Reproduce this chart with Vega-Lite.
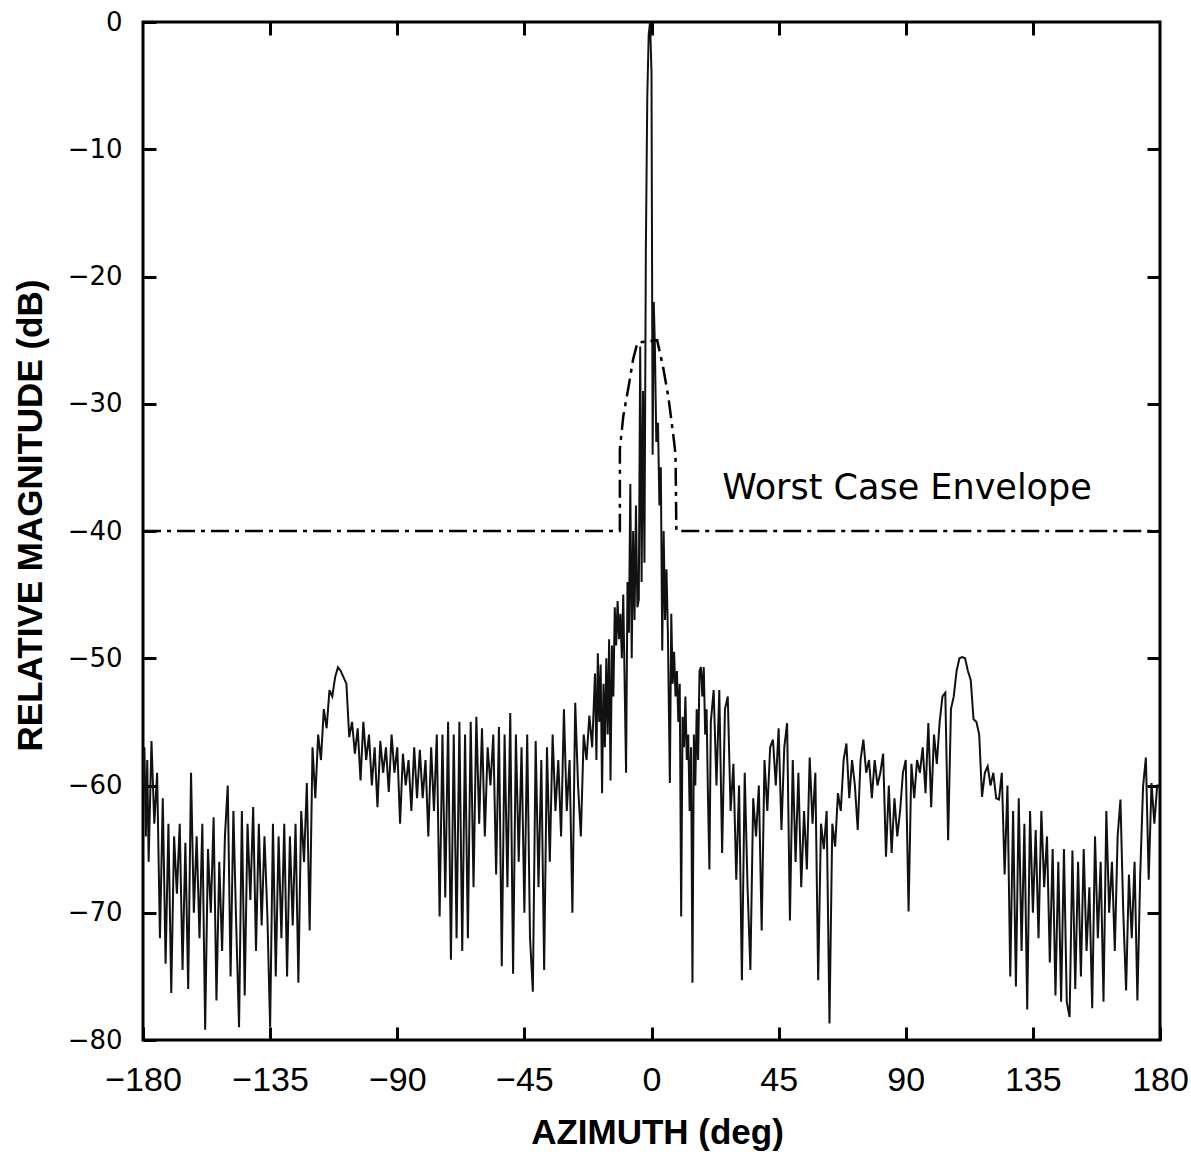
{
  "$schema": "https://vega.github.io/schema/vega-lite/v6.json",
  "width": 1017,
  "height": 1018,
  "autosize": {"type": "none"},
  "padding": {"left": 143, "top": 22, "right": 31, "bottom": 112},
  "background": "white",
  "config": {
    "view": {"stroke": "black", "strokeWidth": 3},
    "axis": {"grid": false, "domain": false, "tickColor": "black", "tickWidth": 3, "tickSize": -13, "labelColor": "black", "titleColor": "black"}
  },
  "datasets": {
    "pattern": [
      {"azimuth": -180, "magnitude": -60}, {"azimuth": -179.5, "magnitude": -57}, {"azimuth": -179, "magnitude": -64}, {"azimuth": -178.5, "magnitude": -58}, {"azimuth": -178, "magnitude": -66},
      {"azimuth": -177, "magnitude": -56.5}, {"azimuth": -176, "magnitude": -63}, {"azimuth": -175, "magnitude": -59}, {"azimuth": -174, "magnitude": -72},
      {"azimuth": -173, "magnitude": -61}, {"azimuth": -172, "magnitude": -74}, {"azimuth": -171, "magnitude": -63}, {"azimuth": -170, "magnitude": -76.3},
      {"azimuth": -169, "magnitude": -64}, {"azimuth": -168, "magnitude": -68.5}, {"azimuth": -167, "magnitude": -63}, {"azimuth": -166, "magnitude": -74.5},
      {"azimuth": -165, "magnitude": -64.5}, {"azimuth": -164, "magnitude": -76}, {"azimuth": -163, "magnitude": -59}, {"azimuth": -162, "magnitude": -70},
      {"azimuth": -161, "magnitude": -64}, {"azimuth": -160, "magnitude": -72}, {"azimuth": -159, "magnitude": -63}, {"azimuth": -158, "magnitude": -79.2},
      {"azimuth": -157, "magnitude": -65}, {"azimuth": -156, "magnitude": -70}, {"azimuth": -155, "magnitude": -62.5}, {"azimuth": -154, "magnitude": -76.9},
      {"azimuth": -153, "magnitude": -66}, {"azimuth": -152, "magnitude": -73}, {"azimuth": -151, "magnitude": -64}, {"azimuth": -150, "magnitude": -60},
      {"azimuth": -149, "magnitude": -75}, {"azimuth": -148, "magnitude": -62}, {"azimuth": -147, "magnitude": -71}, {"azimuth": -146, "magnitude": -79},
      {"azimuth": -145, "magnitude": -62}, {"azimuth": -144, "magnitude": -76.5}, {"azimuth": -143, "magnitude": -63}, {"azimuth": -142, "magnitude": -69},
      {"azimuth": -141, "magnitude": -61.7}, {"azimuth": -140, "magnitude": -73}, {"azimuth": -139, "magnitude": -63}, {"azimuth": -138, "magnitude": -71},
      {"azimuth": -137, "magnitude": -64}, {"azimuth": -136, "magnitude": -70}, {"azimuth": -135, "magnitude": -79}, {"azimuth": -134, "magnitude": -63},
      {"azimuth": -133, "magnitude": -75}, {"azimuth": -132, "magnitude": -64}, {"azimuth": -131, "magnitude": -72}, {"azimuth": -130, "magnitude": -63},
      {"azimuth": -129, "magnitude": -75}, {"azimuth": -128, "magnitude": -64}, {"azimuth": -127, "magnitude": -71}, {"azimuth": -126, "magnitude": -63},
      {"azimuth": -125, "magnitude": -75.5}, {"azimuth": -124, "magnitude": -62}, {"azimuth": -123, "magnitude": -66}, {"azimuth": -122, "magnitude": -59.8},
      {"azimuth": -121, "magnitude": -71.4}, {"azimuth": -120, "magnitude": -57}, {"azimuth": -119, "magnitude": -61}, {"azimuth": -118, "magnitude": -56},
      {"azimuth": -117, "magnitude": -58}, {"azimuth": -116, "magnitude": -54}, {"azimuth": -115, "magnitude": -55.5}, {"azimuth": -114, "magnitude": -52.5},
      {"azimuth": -113, "magnitude": -53}, {"azimuth": -112, "magnitude": -51.5}, {"azimuth": -111, "magnitude": -50.7}, {"azimuth": -110, "magnitude": -51},
      {"azimuth": -109, "magnitude": -51.5}, {"azimuth": -108, "magnitude": -52}, {"azimuth": -107, "magnitude": -56.2}, {"azimuth": -106, "magnitude": -55},
      {"azimuth": -105, "magnitude": -57.5}, {"azimuth": -104, "magnitude": -55.5}, {"azimuth": -103, "magnitude": -59.6}, {"azimuth": -102, "magnitude": -55},
      {"azimuth": -101, "magnitude": -58}, {"azimuth": -100, "magnitude": -56}, {"azimuth": -99, "magnitude": -60}, {"azimuth": -98, "magnitude": -57},
      {"azimuth": -97, "magnitude": -61.7}, {"azimuth": -96, "magnitude": -56.5}, {"azimuth": -95, "magnitude": -59}, {"azimuth": -94, "magnitude": -57},
      {"azimuth": -93, "magnitude": -60.5}, {"azimuth": -92, "magnitude": -56}, {"azimuth": -91, "magnitude": -59}, {"azimuth": -90, "magnitude": -57},
      {"azimuth": -89, "magnitude": -63}, {"azimuth": -88, "magnitude": -57.5}, {"azimuth": -87, "magnitude": -60}, {"azimuth": -86, "magnitude": -58},
      {"azimuth": -85, "magnitude": -62}, {"azimuth": -84, "magnitude": -57}, {"azimuth": -83, "magnitude": -61}, {"azimuth": -82, "magnitude": -57.2},
      {"azimuth": -81, "magnitude": -61}, {"azimuth": -80, "magnitude": -58}, {"azimuth": -79, "magnitude": -64}, {"azimuth": -78, "magnitude": -57},
      {"azimuth": -77, "magnitude": -62}, {"azimuth": -76, "magnitude": -56}, {"azimuth": -75, "magnitude": -70.3}, {"azimuth": -74, "magnitude": -56},
      {"azimuth": -73, "magnitude": -68.8}, {"azimuth": -72, "magnitude": -55}, {"azimuth": -71, "magnitude": -73.7}, {"azimuth": -70, "magnitude": -56},
      {"azimuth": -69, "magnitude": -72}, {"azimuth": -68, "magnitude": -55}, {"azimuth": -67, "magnitude": -73}, {"azimuth": -66, "magnitude": -56},
      {"azimuth": -65, "magnitude": -72}, {"azimuth": -64, "magnitude": -55}, {"azimuth": -63, "magnitude": -68}, {"azimuth": -62, "magnitude": -54.6},
      {"azimuth": -61, "magnitude": -63}, {"azimuth": -60, "magnitude": -55.5}, {"azimuth": -59, "magnitude": -64}, {"azimuth": -58, "magnitude": -57},
      {"azimuth": -57, "magnitude": -60}, {"azimuth": -56, "magnitude": -56}, {"azimuth": -55, "magnitude": -67}, {"azimuth": -54, "magnitude": -55.4},
      {"azimuth": -53, "magnitude": -74.2}, {"azimuth": -52, "magnitude": -56}, {"azimuth": -51, "magnitude": -68}, {"azimuth": -50, "magnitude": -54.3},
      {"azimuth": -49, "magnitude": -74.8}, {"azimuth": -48, "magnitude": -56}, {"azimuth": -47, "magnitude": -66}, {"azimuth": -46, "magnitude": -57},
      {"azimuth": -45, "magnitude": -70}, {"azimuth": -44, "magnitude": -56}, {"azimuth": -43, "magnitude": -72}, {"azimuth": -42, "magnitude": -76.2},
      {"azimuth": -41, "magnitude": -56.5}, {"azimuth": -40, "magnitude": -68}, {"azimuth": -39, "magnitude": -58}, {"azimuth": -38, "magnitude": -74.5},
      {"azimuth": -37, "magnitude": -57}, {"azimuth": -36, "magnitude": -66}, {"azimuth": -35, "magnitude": -56}, {"azimuth": -34, "magnitude": -62},
      {"azimuth": -33, "magnitude": -58}, {"azimuth": -32, "magnitude": -64}, {"azimuth": -31, "magnitude": -54}, {"azimuth": -30, "magnitude": -62},
      {"azimuth": -29, "magnitude": -58}, {"azimuth": -28, "magnitude": -70}, {"azimuth": -27, "magnitude": -53.5}, {"azimuth": -26, "magnitude": -60},
      {"azimuth": -25, "magnitude": -64}, {"azimuth": -24, "magnitude": -56}, {"azimuth": -23, "magnitude": -58}, {"azimuth": -22, "magnitude": -54.5},
      {"azimuth": -21, "magnitude": -57}, {"azimuth": -20, "magnitude": -51.2}, {"azimuth": -19.5, "magnitude": -58}, {"azimuth": -19, "magnitude": -49.6},
      {"azimuth": -18.5, "magnitude": -55}, {"azimuth": -18, "magnitude": -50.5}, {"azimuth": -17.5, "magnitude": -60.6}, {"azimuth": -17, "magnitude": -52},
      {"azimuth": -16.5, "magnitude": -57}, {"azimuth": -16, "magnitude": -50}, {"azimuth": -15.5, "magnitude": -56}, {"azimuth": -15, "magnitude": -48.5},
      {"azimuth": -14.5, "magnitude": -59.6}, {"azimuth": -14, "magnitude": -49}, {"azimuth": -13.5, "magnitude": -53}, {"azimuth": -13, "magnitude": -46},
      {"azimuth": -12.5, "magnitude": -49}, {"azimuth": -12, "magnitude": -45.5}, {"azimuth": -11.5, "magnitude": -48.5}, {"azimuth": -11, "magnitude": -46.5},
      {"azimuth": -10.5, "magnitude": -50}, {"azimuth": -10, "magnitude": -45}, {"azimuth": -9.5, "magnitude": -52}, {"azimuth": -9, "magnitude": -59},
      {"azimuth": -8.5, "magnitude": -44}, {"azimuth": -8, "magnitude": -48}, {"azimuth": -7.5, "magnitude": -36.3}, {"azimuth": -7, "magnitude": -50},
      {"azimuth": -6.5, "magnitude": -40}, {"azimuth": -6, "magnitude": -47}, {"azimuth": -5.5, "magnitude": -38}, {"azimuth": -5, "magnitude": -46},
      {"azimuth": -4.5, "magnitude": -45.4}, {"azimuth": -4, "magnitude": -25.5}, {"azimuth": -3.5, "magnitude": -44}, {"azimuth": -3, "magnitude": -29},
      {"azimuth": -2.5, "magnitude": -42.5}, {"azimuth": -2, "magnitude": -18}, {"azimuth": -1.5, "magnitude": -6}, {"azimuth": -1, "magnitude": -1},
      {"azimuth": -0.5, "magnitude": 0}, {"azimuth": 0, "magnitude": -4}, {"azimuth": 0.4, "magnitude": -34}, {"azimuth": 0.8, "magnitude": -22},
      {"azimuth": 1.2, "magnitude": -25.5}, {"azimuth": 1.7, "magnitude": -33}, {"azimuth": 2.3, "magnitude": -31.5}, {"azimuth": 2.8, "magnitude": -38},
      {"azimuth": 3.3, "magnitude": -35}, {"azimuth": 3.8, "magnitude": -49.4}, {"azimuth": 4.3, "magnitude": -40}, {"azimuth": 4.8, "magnitude": -47},
      {"azimuth": 5.3, "magnitude": -43}, {"azimuth": 5.8, "magnitude": -48}, {"azimuth": 6.5, "magnitude": -59.8}, {"azimuth": 7, "magnitude": -46.5},
      {"azimuth": 7.5, "magnitude": -52}, {"azimuth": 8, "magnitude": -49.5}, {"azimuth": 8.5, "magnitude": -53}, {"azimuth": 9, "magnitude": -51},
      {"azimuth": 9.5, "magnitude": -55}, {"azimuth": 10, "magnitude": -52}, {"azimuth": 10.5, "magnitude": -70.3}, {"azimuth": 11, "magnitude": -54.6},
      {"azimuth": 11.5, "magnitude": -57}, {"azimuth": 12, "magnitude": -53}, {"azimuth": 12.5, "magnitude": -58}, {"azimuth": 13, "magnitude": -56},
      {"azimuth": 13.5, "magnitude": -62}, {"azimuth": 14, "magnitude": -57}, {"azimuth": 14.5, "magnitude": -75.5}, {"azimuth": 15, "magnitude": -56},
      {"azimuth": 15.5, "magnitude": -60}, {"azimuth": 16, "magnitude": -54}, {"azimuth": 16.5, "magnitude": -58}, {"azimuth": 17, "magnitude": -51},
      {"azimuth": 17.5, "magnitude": -50.7}, {"azimuth": 18, "magnitude": -53}, {"azimuth": 18.5, "magnitude": -50.7}, {"azimuth": 19, "magnitude": -56},
      {"azimuth": 19.5, "magnitude": -54}, {"azimuth": 20, "magnitude": -61}, {"azimuth": 20.5, "magnitude": -66.6}, {"azimuth": 21, "magnitude": -55},
      {"azimuth": 22, "magnitude": -52.5}, {"azimuth": 23, "magnitude": -60}, {"azimuth": 24, "magnitude": -52.5}, {"azimuth": 25, "magnitude": -65.3},
      {"azimuth": 26, "magnitude": -54}, {"azimuth": 27, "magnitude": -53}, {"azimuth": 28, "magnitude": -62}, {"azimuth": 29, "magnitude": -58.3},
      {"azimuth": 30, "magnitude": -67.4}, {"azimuth": 31, "magnitude": -60}, {"azimuth": 32, "magnitude": -75.3}, {"azimuth": 33, "magnitude": -59},
      {"azimuth": 34, "magnitude": -68}, {"azimuth": 35, "magnitude": -74.5}, {"azimuth": 36, "magnitude": -61}, {"azimuth": 37, "magnitude": -64},
      {"azimuth": 38, "magnitude": -60}, {"azimuth": 39, "magnitude": -71.4}, {"azimuth": 40, "magnitude": -58}, {"azimuth": 41, "magnitude": -62},
      {"azimuth": 42, "magnitude": -57}, {"azimuth": 43, "magnitude": -56.4}, {"azimuth": 44, "magnitude": -60}, {"azimuth": 45, "magnitude": -55.5},
      {"azimuth": 46, "magnitude": -63.5}, {"azimuth": 47, "magnitude": -57}, {"azimuth": 48, "magnitude": -55.1}, {"azimuth": 49, "magnitude": -70.6},
      {"azimuth": 50, "magnitude": -58}, {"azimuth": 51, "magnitude": -66}, {"azimuth": 52, "magnitude": -59}, {"azimuth": 53, "magnitude": -68},
      {"azimuth": 54, "magnitude": -62}, {"azimuth": 55, "magnitude": -66.6}, {"azimuth": 56, "magnitude": -57.8}, {"azimuth": 57, "magnitude": -63},
      {"azimuth": 58, "magnitude": -59}, {"azimuth": 59, "magnitude": -75.3}, {"azimuth": 60, "magnitude": -63}, {"azimuth": 61, "magnitude": -65},
      {"azimuth": 62, "magnitude": -62}, {"azimuth": 63, "magnitude": -78.7}, {"azimuth": 64, "magnitude": -63}, {"azimuth": 65, "magnitude": -64.8},
      {"azimuth": 66, "magnitude": -60.6}, {"azimuth": 67, "magnitude": -62}, {"azimuth": 68, "magnitude": -58}, {"azimuth": 69, "magnitude": -56.7},
      {"azimuth": 70, "magnitude": -61}, {"azimuth": 71, "magnitude": -58}, {"azimuth": 72, "magnitude": -60}, {"azimuth": 73, "magnitude": -63.5},
      {"azimuth": 74, "magnitude": -58}, {"azimuth": 75, "magnitude": -56.4}, {"azimuth": 76, "magnitude": -59}, {"azimuth": 77, "magnitude": -58},
      {"azimuth": 78, "magnitude": -61}, {"azimuth": 79, "magnitude": -58}, {"azimuth": 80, "magnitude": -60}, {"azimuth": 81, "magnitude": -59},
      {"azimuth": 82, "magnitude": -57.5}, {"azimuth": 83, "magnitude": -65.6}, {"azimuth": 84, "magnitude": -60}, {"azimuth": 85, "magnitude": -65.3},
      {"azimuth": 86, "magnitude": -61}, {"azimuth": 87, "magnitude": -64}, {"azimuth": 88, "magnitude": -62}, {"azimuth": 89, "magnitude": -59},
      {"azimuth": 90, "magnitude": -58}, {"azimuth": 91, "magnitude": -69.9}, {"azimuth": 92, "magnitude": -58.3}, {"azimuth": 93, "magnitude": -61},
      {"azimuth": 94, "magnitude": -58}, {"azimuth": 95, "magnitude": -59}, {"azimuth": 96, "magnitude": -57}, {"azimuth": 97, "magnitude": -60.6},
      {"azimuth": 98, "magnitude": -55.1}, {"azimuth": 99, "magnitude": -61.7}, {"azimuth": 100, "magnitude": -56}, {"azimuth": 101, "magnitude": -58.3},
      {"azimuth": 102, "magnitude": -55}, {"azimuth": 103, "magnitude": -53}, {"azimuth": 104, "magnitude": -52.7}, {"azimuth": 105, "magnitude": -64.3},
      {"azimuth": 106, "magnitude": -54}, {"azimuth": 107, "magnitude": -53}, {"azimuth": 108, "magnitude": -51}, {"azimuth": 109, "magnitude": -50},
      {"azimuth": 110, "magnitude": -49.9}, {"azimuth": 111, "magnitude": -50}, {"azimuth": 112, "magnitude": -51}, {"azimuth": 113, "magnitude": -51.7},
      {"azimuth": 114, "magnitude": -54.8}, {"azimuth": 115, "magnitude": -55}, {"azimuth": 116, "magnitude": -56}, {"azimuth": 117, "magnitude": -60.9},
      {"azimuth": 118, "magnitude": -59}, {"azimuth": 119, "magnitude": -58.5}, {"azimuth": 120, "magnitude": -60}, {"azimuth": 121, "magnitude": -59},
      {"azimuth": 122, "magnitude": -61}, {"azimuth": 123, "magnitude": -61.1}, {"azimuth": 124, "magnitude": -59}, {"azimuth": 125, "magnitude": -67},
      {"azimuth": 126, "magnitude": -60}, {"azimuth": 127, "magnitude": -75}, {"azimuth": 128, "magnitude": -62}, {"azimuth": 129, "magnitude": -75.8},
      {"azimuth": 130, "magnitude": -61}, {"azimuth": 131, "magnitude": -73}, {"azimuth": 132, "magnitude": -63}, {"azimuth": 133, "magnitude": -77.6},
      {"azimuth": 134, "magnitude": -62}, {"azimuth": 135, "magnitude": -70}, {"azimuth": 136, "magnitude": -63.5}, {"azimuth": 137, "magnitude": -72},
      {"azimuth": 138, "magnitude": -62}, {"azimuth": 139, "magnitude": -68}, {"azimuth": 140, "magnitude": -64}, {"azimuth": 141, "magnitude": -73.9},
      {"azimuth": 142, "magnitude": -65}, {"azimuth": 143, "magnitude": -76.5}, {"azimuth": 144, "magnitude": -66}, {"azimuth": 145, "magnitude": -77},
      {"azimuth": 146, "magnitude": -65}, {"azimuth": 147, "magnitude": -77}, {"azimuth": 148, "magnitude": -78.2}, {"azimuth": 149, "magnitude": -65.1},
      {"azimuth": 150, "magnitude": -76}, {"azimuth": 151, "magnitude": -66}, {"azimuth": 152, "magnitude": -75}, {"azimuth": 153, "magnitude": -65},
      {"azimuth": 154, "magnitude": -73}, {"azimuth": 155, "magnitude": -68}, {"azimuth": 156, "magnitude": -77.5}, {"azimuth": 157, "magnitude": -64},
      {"azimuth": 158, "magnitude": -72}, {"azimuth": 159, "magnitude": -66}, {"azimuth": 160, "magnitude": -77}, {"azimuth": 161, "magnitude": -62},
      {"azimuth": 162, "magnitude": -70}, {"azimuth": 163, "magnitude": -66}, {"azimuth": 164, "magnitude": -73}, {"azimuth": 165, "magnitude": -64},
      {"azimuth": 166, "magnitude": -61.1}, {"azimuth": 167, "magnitude": -70}, {"azimuth": 168, "magnitude": -76.1}, {"azimuth": 169, "magnitude": -67},
      {"azimuth": 170, "magnitude": -72}, {"azimuth": 171, "magnitude": -66}, {"azimuth": 172, "magnitude": -76.9}, {"azimuth": 173, "magnitude": -67},
      {"azimuth": 174, "magnitude": -60.1}, {"azimuth": 175, "magnitude": -57.8}, {"azimuth": 176, "magnitude": -67.4}, {"azimuth": 177, "magnitude": -59.8},
      {"azimuth": 178, "magnitude": -63}, {"azimuth": 179, "magnitude": -60}, {"azimuth": 180, "magnitude": -60}
    ],
    "envelope": [
      {"azimuth": -180, "magnitude": -40}, {"azimuth": -11.2, "magnitude": -40}, {"azimuth": -11.2, "magnitude": -33.6},
      {"azimuth": -10, "magnitude": -31}, {"azimuth": -8, "magnitude": -28.5}, {"azimuth": -6.5, "magnitude": -26.5},
      {"azimuth": -5, "magnitude": -25.2}, {"azimuth": 2, "magnitude": -25}, {"azimuth": 4, "magnitude": -27},
      {"azimuth": 6, "magnitude": -29.5}, {"azimuth": 8, "magnitude": -33}, {"azimuth": 8.5, "magnitude": -34},
      {"azimuth": 8.8, "magnitude": -40}, {"azimuth": 180, "magnitude": -40}
    ],
    "labels": [
      {"azimuth": 25, "magnitude": -36.6, "text": "Worst Case Envelope"}
    ]
  },
  "layer": [
    {
      "data": {"name": "pattern"},
      "mark": {"type": "line", "color": "#111", "strokeWidth": 2, "clip": true},
      "encoding": {
        "x": {"field": "azimuth", "type": "quantitative", "sort": null,
          "scale": {"domain": [-180, 180], "nice": false, "zero": false},
          "axis": {"orient": "bottom", "values": [-180, -135, -90, -45, 0, 45, 90, 135, 180], "title": "AZIMUTH (deg)",
            "labelFont": "Liberation Sans Narrow, Liberation Sans", "labelFontSize": 34, "labelPadding": 36, "labelBaseline": "top",
            "labelFlush": false,
            "titleFont": "Liberation Sans", "titleFontWeight": "bold", "titleFontSize": 35, "titleX": 514, "titleY": 92, "titleBaseline": "middle", "titleAnchor": null}},
        "y": {"field": "magnitude", "type": "quantitative",
          "scale": {"domain": [-80, 0], "nice": false, "zero": false},
          "axis": {"orient": "left", "values": [0, -10, -20, -30, -40, -50, -60, -70, -80], "title": "RELATIVE MAGNITUDE (dB)",
            "labelFont": "DejaVu Sans", "labelFontSize": 26, "labelPadding": 34, "labelFlush": false,
            "titleFont": "Liberation Sans", "titleFontWeight": "bold", "titleFontSize": 35, "titleAngle": -90, "titleX": -113, "titleY": 493, "titleBaseline": "middle", "titleAlign": "center"}}
      }
    },
    {
      "data": {"name": "envelope"},
      "mark": {"type": "line", "color": "black", "strokeWidth": 2.5, "strokeDash": [18, 6, 4, 6], "clip": true},
      "encoding": {
        "x": {"field": "azimuth", "type": "quantitative", "sort": null,
          "axis": {"orient": "top", "values": [-135, -90, -45, 0, 45, 90, 135], "labels": false, "title": null}},
        "y": {"field": "magnitude", "type": "quantitative",
          "axis": {"orient": "right", "values": [-10, -20, -30, -40, -50, -60, -70], "labels": false, "title": null}}
      }
    },
    {
      "data": {"name": "labels"},
      "mark": {"type": "text", "align": "left", "baseline": "middle", "font": "DejaVu Sans", "fontSize": 35, "color": "black"},
      "encoding": {
        "x": {"field": "azimuth", "type": "quantitative", "axis": null},
        "y": {"field": "magnitude", "type": "quantitative", "axis": null},
        "text": {"field": "text"}
      }
    }
  ],
  "resolve": {"axis": {"x": "independent", "y": "independent"}}
}
